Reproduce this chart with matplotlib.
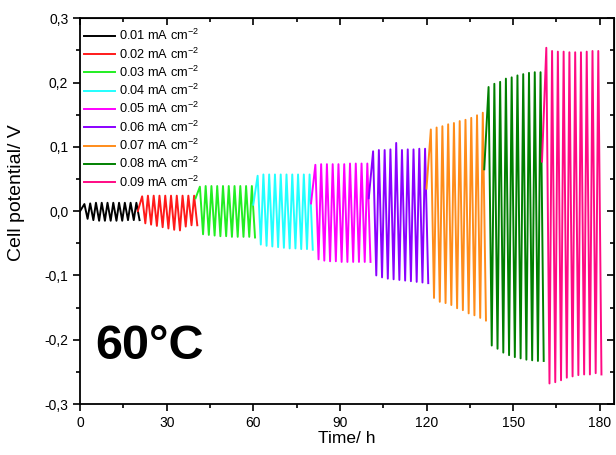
# galvanostatic cycling at 60 C, cell potential vs time

import matplotlib
matplotlib.use('Agg')
import matplotlib.pyplot as plt
from matplotlib.ticker import MultipleLocator, FuncFormatter

plt.rcParams['font.family'] = ['Liberation Sans', 'DejaVu Sans']
plt.rcParams['mathtext.fontset'] = 'custom'
plt.rcParams['mathtext.rm'] = 'Liberation Sans'

labels = ['0.01 mA cm$^{-2}$', '0.02 mA cm$^{-2}$', '0.03 mA cm$^{-2}$',
          '0.04 mA cm$^{-2}$', '0.05 mA cm$^{-2}$', '0.06 mA cm$^{-2}$',
          '0.07 mA cm$^{-2}$', '0.08 mA cm$^{-2}$', '0.09 mA cm$^{-2}$']
colors = ['#000000', '#ff1a1a', '#22ee22', '#22ffff', '#ff00ff',
          '#8a00ff', '#ff8c1a', '#008000', '#ff0a84']

block_hours = 20
start_values = [0.0, 0.0, 0.02, 0.01, 0.012, 0.02, 0.035, 0.065, 0.077]

# peak (high) and trough (low) potential of each cycle, per current density
high_001 = [0.011, 0.012, 0.013, 0.013, 0.013, 0.013, 0.013, 0.013, 0.013, 0.013]
low_001 = [-0.012, -0.014, -0.015, -0.015, -0.015, -0.015, -0.015, -0.014, -0.014, -0.014]
high_002 = [0.023, 0.024, 0.024, 0.024, 0.024, 0.024, 0.024, 0.024, 0.024, 0.024]
low_002 = [-0.019, -0.021, -0.023, -0.025, -0.027, -0.029, -0.030, -0.024, -0.022, -0.022]
high_003 = [0.038, 0.039, 0.039, 0.039, 0.039, 0.039, 0.039, 0.039, 0.039, 0.039]
low_003 = [-0.036, -0.037, -0.038, -0.039, -0.039, -0.040, -0.040, -0.040, -0.040, -0.041]
high_004 = [0.055, 0.057, 0.057, 0.057, 0.057, 0.057, 0.057, 0.057, 0.057, 0.057]
low_004 = [-0.052, -0.054, -0.055, -0.056, -0.057, -0.058, -0.058, -0.059, -0.059, -0.060]
high_005 = [0.072, 0.073, 0.073, 0.073, 0.073, 0.073, 0.074, 0.074, 0.074, 0.074]
low_005 = [-0.075, -0.077, -0.078, -0.078, -0.079, -0.079, -0.079, -0.079, -0.079, -0.079]
high_006 = [0.093, 0.095, 0.095, 0.096, 0.106, 0.095, 0.096, 0.096, 0.097, 0.097]
low_006 = [-0.100, -0.103, -0.105, -0.106, -0.107, -0.108, -0.109, -0.110, -0.111, -0.112]
high_007 = [0.127, 0.130, 0.132, 0.135, 0.137, 0.140, 0.142, 0.145, 0.149, 0.153]
low_007 = [-0.135, -0.141, -0.143, -0.146, -0.151, -0.154, -0.159, -0.162, -0.166, -0.170]
high_008 = [0.193, 0.198, 0.201, 0.206, 0.208, 0.211, 0.213, 0.215, 0.216, 0.216]
low_008 = [-0.209, -0.214, -0.220, -0.224, -0.227, -0.229, -0.231, -0.232, -0.233, -0.233]
high_009 = [0.254, 0.249, 0.248, 0.248, 0.247, 0.247, 0.247, 0.248, 0.249, 0.249]
low_009 = [-0.268, -0.266, -0.263, -0.259, -0.257, -0.255, -0.254, -0.254, -0.252, -0.254]

highs = [high_001, high_002, high_003, high_004, high_005,
         high_006, high_007, high_008, high_009]
lows = [low_001, low_002, low_003, low_004, low_005,
        low_006, low_007, low_008, low_009]

# hours into each 2 h cycle where the peak and the trough are reached
peak_offset, trough_offset = 1.5, 2.6


def block_curve(k):
    t0 = k * block_hours
    t, v = [t0], [start_values[k]]
    for i, (hi, lo) in enumerate(zip(highs[k], lows[k])):
        t += [t0 + 2 * i + peak_offset, t0 + 2 * i + trough_offset]
        v += [hi, lo]
    return t, v


fig = plt.figure(figsize=(6.16, 4.55), dpi=100, facecolor='w')
ax = fig.add_axes([0.13, 0.112, 0.867, 0.848])

for k in range(len(labels)):
    t, v = block_curve(k)
    ax.plot(t, v, '-', color=colors[k], lw=1.4, label=labels[k])

ax.set_xlim(0, 185)
ax.set_ylim(-0.3, 0.3)
ax.xaxis.set_major_locator(MultipleLocator(30))
ax.xaxis.set_minor_locator(MultipleLocator(15))
ax.yaxis.set_major_locator(MultipleLocator(0.1))
ax.yaxis.set_minor_locator(MultipleLocator(0.05))
ax.yaxis.set_major_formatter(FuncFormatter(
    lambda v, p: ('%.1f' % v).replace('.', ',').replace('-0,0', '0,0')))
ax.tick_params(which='both', direction='out', labelsize=10, width=1.2)
ax.tick_params(which='major', length=5)
ax.tick_params(which='minor', length=3)
for s in ax.spines.values():
    s.set_linewidth(1.3)

# mirrored ticks pointing inwards on top and right
top = ax.secondary_xaxis('top')
top.xaxis.set_major_locator(MultipleLocator(30))
top.xaxis.set_minor_locator(MultipleLocator(15))
top.tick_params(which='both', direction='in', labeltop=False, width=1.2)
top.tick_params(which='major', length=5)
top.tick_params(which='minor', length=3)
right = ax.secondary_yaxis('right')
right.yaxis.set_major_locator(MultipleLocator(0.1))
right.yaxis.set_minor_locator(MultipleLocator(0.05))
right.tick_params(which='both', direction='in', labelright=False, width=1.2)
right.tick_params(which='major', length=5)
right.tick_params(which='minor', length=3)

ax.set_xlabel('Time/ h', fontsize=12.5, labelpad=1)
ax.set_ylabel('Cell potential/ V', fontsize=14)
ax.yaxis.set_label_coords(-0.103, 0.547)

ax.legend(loc='upper left', bbox_to_anchor=(0.0, 0.984), frameon=False,
          fontsize=9.2, handlelength=2.45, handletextpad=0.3, labelspacing=0.24,
          borderaxespad=0.1, borderpad=0.2)

ax.text(0.028, 0.116, '60°C', transform=ax.transAxes, fontsize=35,
        fontweight='bold', ha='left', va='baseline')

fig.savefig('out.png', dpi=100)
